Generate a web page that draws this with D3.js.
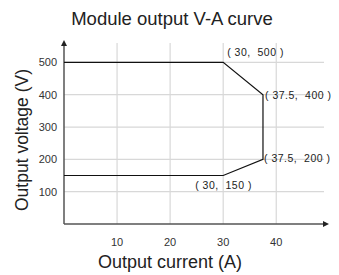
<!DOCTYPE html>
<html>
<head>
<meta charset="utf-8">
<script src="https://cdn.jsdelivr.net/npm/d3@7"></script>
<style>
  body { margin: 0; background: #fff; }
  text { font-family: "Liberation Sans", Arial, sans-serif; }
</style>
</head>
<body>
<div id="chart"></div>
<script>
// curve corner points (current A, voltage V)
let currents = [0, 30, 37.5, 37.5, 30, 0];
let voltages = [500, 500, 400, 200, 150, 150];
let xTicks = [10, 20, 30, 40];
let yTicks = [100, 200, 300, 400, 500];
let pointLabels = ["( 30,  500 )", "( 37.5,  400 )", "( 37.5,  200 )", "( 30,  150 )"];
let labelPoints = [[30, 500], [37.5, 400], [37.5, 200], [30, 150]];

let width = 339, height = 275;

let x = d3.scaleLinear().domain([0, 49]).range([64, 324]);
let y = d3.scaleLinear().domain([0, 560]).range([224, 43]);

const svg = d3.select("#chart")
  .append("svg")
  .attr("width", width)
  .attr("height", height);

// grid
let gridPath = xTicks.map(d => "M" + x(d) + "," + y(0) + "V" + y(560)).join("") +
  yTicks.map(d => "M" + x(0) + "," + y(d) + "H" + x(49)).join("");

svg.append("path")
  .attr("d", gridPath)
  .style("fill", "none")
  .style("stroke", "#d8d8d8")
  .style("stroke-width", 1.2);

// axes
svg.append("line")
  .attr("x1", x(0)).attr("x2", x(49) + 2)
  .attr("y1", y(0)).attr("y2", y(0))
  .style("stroke", "#555").style("stroke-width", 1.5);
svg.append("path")
  .attr("d", "M" + (x(49) + 5) + "," + y(0) + " l-6,-3 l0,6 z")
  .style("fill", "#222");

svg.append("line")
  .attr("x1", x(0)).attr("x2", x(0))
  .attr("y1", y(0)).attr("y2", y(560) + 1)
  .style("stroke", "#555").style("stroke-width", 1.5);
svg.append("path")
  .attr("d", "M" + x(0) + "," + (y(560) - 3) + " l-3,6 l6,0 z")
  .style("fill", "#222");

// tick labels
svg.append("g").selectAll("text")
  .data(xTicks)
  .enter()
  .append("text")
  .text(d => d)
  .attr("x", d => x(d))
  .attr("y", 246)
  .attr("text-anchor", "middle")
  .style("font-size", 11)
  .style("fill", "#333");

svg.append("g").selectAll("text")
  .data(yTicks)
  .enter()
  .append("text")
  .text(d => d)
  .attr("x", 57)
  .attr("y", d => y(d) + 4)
  .attr("text-anchor", "end")
  .style("font-size", 11)
  .style("fill", "#333");

// curve
let line = d3.line()
  .x(d => x(d[0]))
  .y(d => y(d[1]));

svg.append("path")
  .datum(currents.map((c, i) => [c, voltages[i]]))
  .attr("d", line)
  .style("fill", "none")
  .style("stroke", "#111")
  .style("stroke-width", 1.2);

// point labels
let offsets = [[4, -6], [2, 4], [1, 3], [-28, 13]];
svg.append("g").selectAll("text")
  .data(labelPoints)
  .enter()
  .append("text")
  .text((d, i) => pointLabels[i])
  .attr("x", (d, i) => x(d[0]) + offsets[i][0])
  .attr("y", (d, i) => y(d[1]) + offsets[i][1])
  .attr("xml:space", "preserve")
  .style("white-space", "pre")
  .style("font-size", 10.5)
  .style("letter-spacing", "0.5px")
  .style("fill", "#222");

// titles
svg.append("text")
  .text("Module output V-A curve")
  .attr("x", 172)
  .attr("y", 25)
  .attr("text-anchor", "middle")
  .style("font-size", 18.5)
  .style("fill", "#222");

svg.append("text")
  .text("Output current (A)")
  .attr("x", 170)
  .attr("y", 268)
  .attr("text-anchor", "middle")
  .style("font-size", 18)
  .style("fill", "#222");

svg.append("text")
  .text("Output voltage (V)")
  .attr("transform", "translate(28, 140) rotate(-90)")
  .attr("text-anchor", "middle")
  .style("font-size", 17.5)
  .style("fill", "#222");
</script>
</body>
</html>
